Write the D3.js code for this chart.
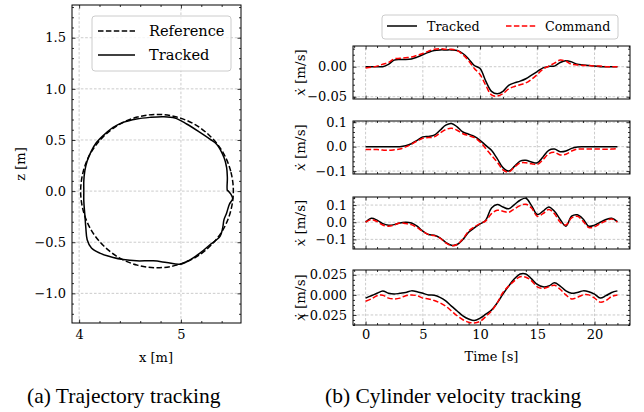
<!DOCTYPE html>
<html>
<head>
<meta charset="utf-8">
<script src="https://cdn.jsdelivr.net/npm/d3@7"></script>
<style>
  body { margin: 0; background: #fff; }
  svg { display: block; }
</style>
</head>
<body>
<svg id="fig" width="644" height="412"></svg>
<script>
// ---- data ----
// (a) trajectory, x/z in metres
var refX = [5.515, 5.489, 5.415, 5.295, 5.140, 4.959, 4.765, 4.571, 4.390, 4.235, 4.115, 4.041,
            4.015, 4.041, 4.115, 4.235, 4.390, 4.571, 4.765, 4.959, 5.140, 5.295, 5.415, 5.489];
var refZ = [0.000, 0.194, 0.375, 0.530, 0.650, 0.724, 0.750, 0.724, 0.650, 0.530, 0.375, 0.194,
            0.000, -0.194, -0.375, -0.530, -0.650, -0.724, -0.750, -0.724, -0.650, -0.530, -0.375, -0.194];
var trkX = [5.456, 5.456, 5.449, 5.423, 5.351, 5.285, 5.187, 5.056, 4.941, 4.826, 4.695, 4.564, 4.433,
            4.334, 4.252, 4.170, 4.121, 4.079, 4.056, 4.046, 4.046, 4.046, 4.056, 4.066, 4.079, 4.121,
            4.203, 4.334, 4.433, 4.564, 4.728, 4.859, 4.990, 5.089, 5.187, 5.285, 5.384, 5.410, 5.423,
            5.449, 5.475, 5.508, 5.492, 5.466];
var trkZ = [0.007, 0.131, 0.230, 0.328, 0.459, 0.508, 0.574, 0.656, 0.715, 0.728, 0.721, 0.705, 0.672,
            0.623, 0.557, 0.475, 0.393, 0.295, 0.197, 0.098, 0.000, -0.098, -0.230, -0.361, -0.475, -0.557,
            -0.607, -0.649, -0.669, -0.682, -0.682, -0.698, -0.715, -0.672, -0.607, -0.525, -0.443, -0.361, -0.279,
            -0.213, -0.131, -0.072, -0.033, 0.000];

// (b) cylinder velocities, time in s
var time = [0, 0.5, 1, 1.5, 2, 2.5, 3, 3.5, 4, 4.5, 5, 5.5, 6, 6.5, 7, 7.5, 8, 8.5, 9, 9.5, 10, 10.5,
            11, 11.5, 12, 12.5, 13, 13.5, 14, 14.5, 15, 15.5, 16, 16.5, 17, 17.5, 18, 18.5, 19, 19.5,
            20, 20.5, 21, 21.5, 22];
var trk1 = [0, 0, 0, 0, 0.004, 0.011, 0.012, 0.012, 0.013, 0.016, 0.020, 0.024, 0.027, 0.028, 0.028, 0.028,
            0.027, 0.022, 0.013, 0.002, -0.003, -0.024, -0.041, -0.045, -0.041, -0.031, -0.027, -0.024, -0.020,
            -0.014, -0.008, -0.002, 0.0005, 0.001, 0.007, 0.010, 0.008, 0.004, 0.003, 0.002, 0.001, 0, 0, 0, 0];
var cmd1 = [-0.002, -0.001, 0.001, 0.004, 0.007, 0.013, 0.014, 0.015, 0.016, 0.019, 0.022, 0.026, 0.029, 0.030,
            0.029, 0.029, 0.027, 0.020, 0.010, -0.003, -0.013, -0.031, -0.047, -0.049, -0.045, -0.037, -0.033,
            -0.030, -0.027, -0.021, -0.013, -0.004, 0.001, 0.006, 0.011, 0.009, 0.004, 0.003, 0.002, 0.002,
            0.001, 0.001, 0, 0, 0];
var trk2 = [0, 0, 0, 0, 0, 0, 0, 0.004, 0.012, 0.026, 0.040, 0.042, 0.047, 0.067, 0.088, 0.095, 0.081, 0.060,
            0.051, 0.042, 0.026, 0.005, -0.015, -0.049, -0.086, -0.100, -0.081, -0.059, -0.056, -0.063, -0.066,
            -0.042, -0.015, -0.010, -0.021, -0.018, -0.007, -0.001, 0, 0, 0, 0, 0, 0, 0];
var cmd2 = [-0.012, -0.012, -0.012, -0.014, -0.015, -0.013, -0.010, -0.001, 0.010, 0.023, 0.034, 0.037, 0.040,
            0.056, 0.070, 0.075, 0.067, 0.053, 0.045, 0.037, 0.019, -0.008, -0.036, -0.063, -0.095, -0.104,
            -0.084, -0.067, -0.066, -0.070, -0.073, -0.053, -0.029, -0.023, -0.034, -0.031, -0.018, -0.010,
            -0.010, -0.010, -0.010, -0.010, -0.011, -0.010, -0.008];
var trk3 = [0, 0.023, 0.012, -0.008, -0.017, -0.014, -0.004, 0, -0.004, -0.023, -0.052, -0.072, -0.076, -0.091,
            -0.117, -0.134, -0.130, -0.101, -0.058, -0.033, -0.010, 0.012, 0.083, 0.103, 0.089, 0.078, 0.103,
            0.128, 0.140, 0.097, 0.045, 0.064, 0.089, 0.064, 0.016, -0.023, 0.035, 0.043, 0.019, -0.023,
            -0.017, 0, 0.016, 0.023, 0.004];
var cmd3 = [0, 0.016, 0.004, -0.016, -0.023, -0.016, -0.004, -0.008, -0.014, -0.031, -0.054, -0.072, -0.078,
            -0.093, -0.120, -0.136, -0.130, -0.097, -0.052, -0.027, -0.008, 0.008, 0.050, 0.070, 0.064, 0.058,
            0.078, 0.097, 0.105, 0.083, 0.035, 0.050, 0.074, 0.050, 0, -0.016, 0.025, 0.035, 0.006, -0.031,
            -0.027, -0.008, 0.008, 0.019, 0];
var trk4 = [-0.004, -0.001, 0.002, 0.005, 0.002, 0.001, 0.002, 0.003, 0.005, 0.004, 0.002, 0.000, -0.0004,
            -0.003, -0.0075, -0.014, -0.020, -0.026, -0.030, -0.032, -0.029, -0.024, -0.019, -0.010, 0.001,
            0.011, 0.020, 0.026, 0.026, 0.020, 0.013, 0.010, 0.011, 0.015, 0.011, 0.005, 0.002, 0.003, 0.005,
            0.004, 0.001, -0.004, -0.001, 0.003, 0.005];
var cmd4 = [-0.008, -0.005, -0.001, -0.0004, -0.004, -0.005, -0.004, -0.001, 0.0, -0.001, -0.004, -0.005,
            -0.007, -0.010, -0.014, -0.020, -0.026, -0.031, -0.034, -0.035, -0.033, -0.027, -0.020, -0.010,
            0.003, 0.011, 0.0175, 0.0225, 0.022, 0.0175, 0.010, 0.008, 0.010, 0.012, 0.007, 0, -0.005, -0.003,
            0, 0, -0.004, -0.009, -0.007, -0.002, 0];

// tick labels
var xTicksA = [4, 5];
var zTicksA = [-1.0, -0.5, 0.0, 0.5, 1.0, 1.5];
var timeTicks = [0, 5, 10, 15, 20];
var velTicks = [[-0.05, 0.00], [-0.1, 0.0, 0.1], [-0.1, 0.0, 0.1], [-0.025, 0.000, 0.025]];

var FONT = "DejaVu Serif";
var svg = d3.select("#fig");

// minor tick helper (between majors, inside domain)
function minors(domain, step, majors) {
    var lo = Math.min(domain[0], domain[1]), hi = Math.max(domain[0], domain[1]);
    return d3.range(Math.ceil(lo / step - 1e-6), Math.floor(hi / step + 1e-6) + 1)
        .map(function(i) { return +(i * step).toFixed(6); })
        .filter(function(v) {
            return !majors.some(function(m) { return Math.abs(m - v) < step / 10; });
        });
}

// dashed grid at major ticks
function drawFrame(g, x, y, o) {
    var xr = x.range(), yr = y.range();
    var grid = g.append("g").attr("stroke", "#a8a8a8").attr("stroke-width", 0.6)
        .attr("stroke-dasharray", "2.6,1.8");
    grid.selectAll(".gx").data(o.xMajor).join("line")
        .attr("x1", function(d) { return x(d); }).attr("x2", function(d) { return x(d); })
        .attr("y1", yr[0]).attr("y2", yr[1]);
    grid.selectAll(".gy").data(o.yMajor).join("line")
        .attr("y1", function(d) { return y(d); }).attr("y2", function(d) { return y(d); })
        .attr("x1", xr[0]).attr("x2", xr[1]);
}

// in-ticks on all four sides + box
function drawTicks(g, x, y, o) {
    var xr = x.range(), yr = y.range();
    var xMin = minors(x.domain(), o.xStep, o.xMajor);
    var yMin = minors(y.domain(), o.yStep, o.yMajor);
    var defs = [
        [d3.axisBottom(x).tickValues(o.xMajor).tickSize(-3.5).tickPadding(o.xPad)
            .tickFormat(o.xLabels ? o.xFmt : ""), 0, yr[0]],
        [d3.axisBottom(x).tickValues(xMin).tickSize(-2).tickFormat(""), 0, yr[0]],
        [d3.axisTop(x).tickValues(o.xMajor).tickSize(-3.5).tickFormat(""), 0, yr[1]],
        [d3.axisTop(x).tickValues(xMin).tickSize(-2).tickFormat(""), 0, yr[1]],
        [d3.axisLeft(y).tickValues(o.yMajor).tickSize(-3.5).tickPadding(6).tickFormat(o.yFmt), xr[0], 0],
        [d3.axisLeft(y).tickValues(yMin).tickSize(-2).tickFormat(""), xr[0], 0],
        [d3.axisRight(y).tickValues(o.yMajor).tickSize(-3.5).tickFormat(""), xr[1], 0],
        [d3.axisRight(y).tickValues(yMin).tickSize(-2).tickFormat(""), xr[1], 0]
    ];
    defs.forEach(function(d) {
        var a = g.append("g").attr("transform", "translate(" + d[1] + "," + d[2] + ")")
            .call(d[0]);
        a.select(".domain").remove();
        a.selectAll("line").attr("stroke", "#000").attr("stroke-width", 0.8);
        a.attr("font-family", FONT).attr("font-size", 13);
        a.selectAll("text").attr("fill", "#000");
    });
    g.append("rect")
        .attr("x", xr[0]).attr("y", yr[1])
        .attr("width", xr[1] - xr[0]).attr("height", yr[0] - yr[1])
        .attr("fill", "none").attr("stroke", "#000").attr("stroke-width", 1);
}

// ---------- (a) trajectory ----------
var xA = d3.scaleLinear().domain([3.93, 5.59]).range([72, 241]);
var zA = d3.scaleLinear().domain([-1.29, 1.82]).range([323, 5]);
var gA = svg.append("g");
var optA = {
    xMajor: xTicksA, yMajor: zTicksA, xStep: 0.2, yStep: 0.1,
    xFmt: d3.format("d"), yFmt: d3.format(".1f"), xLabels: true, xPad: 7
};
drawFrame(gA, xA, zA, optA);

var loop = d3.line()
    .x(function(d) { return xA(d[0]); })
    .y(function(d) { return zA(d[1]); })
    .curve(d3.curveCatmullRomClosed);

gA.append("path")
    .datum(d3.zip(refX, refZ))
    .attr("d", loop)
    .attr("fill", "none").attr("stroke", "#000").attr("stroke-width", 1.5)
    .attr("stroke-dasharray", "5.5,2.4");
gA.append("path")
    .datum(d3.zip(trkX, trkZ))
    .attr("d", loop)
    .attr("fill", "none").attr("stroke", "#000").attr("stroke-width", 1.5);

drawTicks(gA, xA, zA, optA);

gA.append("text").attr("x", 156).attr("y", 362).attr("text-anchor", "middle")
    .attr("font-family", FONT).attr("font-size", 13).text("x [m]");
gA.append("text").attr("transform", "translate(25,164) rotate(-90)").attr("text-anchor", "middle")
    .attr("font-family", FONT).attr("font-size", 13).text("z [m]");

// legend (a)
var legA = gA.append("g");
legA.append("rect").attr("x", 92).attr("y", 16).attr("width", 139).attr("height", 55).attr("rx", 3)
    .attr("fill", "#fff").attr("fill-opacity", 0.8).attr("stroke", "#cccccc").attr("stroke-width", 1);
[["Reference", "5.5,2.4", 31], ["Tracked", null, 55]].forEach(function(e) {
    legA.append("line").attr("x1", 98).attr("x2", 135).attr("y1", e[2]).attr("y2", e[2])
        .attr("stroke", "#000").attr("stroke-width", 1.5).attr("stroke-dasharray", e[1]);
    legA.append("text").attr("x", 149).attr("y", e[2] + 5).attr("font-family", FONT)
        .attr("font-size", 14.6).text(e[0]);
});

// ---------- (b) velocities ----------
var tX = d3.scaleLinear().domain([-1.1, 23.1]).range([353, 630]);
var panels = [
    { top: 46, bottom: 99, dom: [-0.0538, 0.0345], fmt: ".2f", step: 0.01, trk: trk1, cmd: cmd1 },
    { top: 121, bottom: 174, dom: [-0.112, 0.105], fmt: ".1f", step: 0.02, trk: trk2, cmd: cmd2 },
    { top: 197, bottom: 249, dom: [-0.156, 0.147], fmt: ".1f", step: 0.02, trk: trk3, cmd: cmd3 },
    { top: 270, bottom: 325, dom: [-0.0375, 0.031], fmt: ".3f", step: 0.00625, trk: trk4, cmd: cmd4 }
];

panels.forEach(function(p, i) {
    var g = svg.append("g");
    var y = d3.scaleLinear().domain(p.dom).range([p.bottom, p.top]);
    var opt = {
        xMajor: timeTicks, yMajor: velTicks[i], xStep: 1, yStep: p.step,
        xFmt: d3.format("d"), yFmt: d3.format(p.fmt), xLabels: i === panels.length - 1, xPad: 5
    };
    drawFrame(g, tX, y, opt);
    var line = d3.line()
        .x(function(d) { return tX(d[0]); })
        .y(function(d) { return y(d[1]); })
        .curve(d3.curveCatmullRom);
    g.append("path").datum(d3.zip(time, p.trk)).attr("d", line)
        .attr("fill", "none").attr("stroke", "#000").attr("stroke-width", 1.5);
    g.append("path").datum(d3.zip(time, p.cmd)).attr("d", line)
        .attr("fill", "none").attr("stroke", "#ff0000").attr("stroke-width", 1.5)
        .attr("stroke-dasharray", "5.5,2.4");
    drawTicks(g, tX, y, opt);

    var lab = g.append("text")
        .attr("transform", "translate(305," + ((p.top + p.bottom) / 2) + ") rotate(-90)")
        .attr("text-anchor", "middle").attr("font-family", FONT).attr("font-size", 13.5);
    lab.append("tspan").attr("font-style", "italic").text("ẋ");
    lab.append("tspan").text(" [m/s]");
});

svg.append("text").attr("x", 491.5).attr("y", 361).attr("text-anchor", "middle")
    .attr("font-family", FONT).attr("font-size", 13).text("Time [s]");

// legend (b)
var legB = svg.append("g");
legB.append("rect").attr("x", 382).attr("y", 15).attr("width", 236).attr("height", 24).attr("rx", 3)
    .attr("fill", "#fff").attr("fill-opacity", 0.8).attr("stroke", "#cccccc").attr("stroke-width", 1);
[["Tracked", "#000", null, 387, 427], ["Command", "#ff0000", "5.5,2.4", 506, 545]].forEach(function(e) {
    legB.append("line").attr("x1", e[3]).attr("x2", e[3] + 30).attr("y1", 26).attr("y2", 26)
        .attr("stroke", e[1]).attr("stroke-width", 1.5).attr("stroke-dasharray", e[2]);
    legB.append("text").attr("x", e[4]).attr("y", 30.5).attr("font-family", FONT)
        .attr("font-size", 12.7).text(e[0]);
});

// captions
svg.append("text").attr("x", 27).attr("y", 403).attr("font-family", "Liberation Serif")
    .attr("font-size", 21.5).text("(a) Trajectory tracking");
svg.append("text").attr("x", 325).attr("y", 403).attr("font-family", "Liberation Serif")
    .attr("font-size", 21.5).text("(b) Cylinder velocity tracking");
</script>
</body>
</html>
